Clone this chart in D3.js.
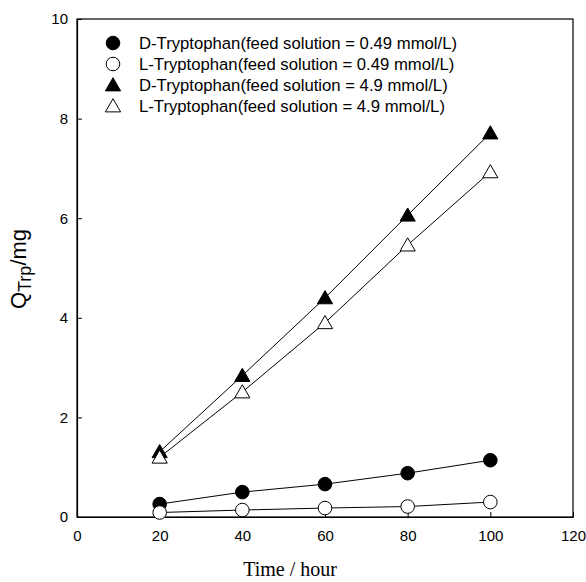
<!DOCTYPE html>
<html>
<head>
<meta charset="utf-8">
<script src="https://cdn.jsdelivr.net/npm/d3@7"></script>
<style>
  html, body { margin: 0; padding: 0; background: #fff; }
  svg { display: block; }
</style>
</head>
<body>
<svg id="chart" width="586" height="582"></svg>
<script>
// Sampling times (hours)
const times = [20, 40, 60, 80, 100];

// Amount of tryptophan transported, Q (mg)
const dTrpLow  = [0.26, 0.50, 0.66, 0.88, 1.14];
const lTrpLow  = [0.09, 0.14, 0.18, 0.21, 0.30];
const dTrpHigh = [1.31, 2.84, 4.40, 6.06, 7.71];
const lTrpHigh = [1.20, 2.51, 3.90, 5.46, 6.93];

const seriesNames = [
  "D-Tryptophan(feed solution = 0.49 mmol/L)",
  "L-Tryptophan(feed solution = 0.49 mmol/L)",
  "D-Tryptophan(feed solution = 4.9 mmol/L)",
  "L-Tryptophan(feed solution = 4.9 mmol/L)"
];
const seriesValues = [dTrpLow, lTrpLow, dTrpHigh, lTrpHigh];
const seriesShapes = ["circle", "circle", "triangle", "triangle"];
const seriesFilled = [true, false, true, false];

const xTicks = [0, 20, 40, 60, 80, 100, 120];
const yTicks = [0, 2, 4, 6, 8, 10];

const svg = d3.select("#chart");
const margin = { left: 77, top: 19, right: 13, bottom: 65 };
const W = 586, H = 582;

const x = d3.scaleLinear().domain([0, 120]).range([margin.left, W - margin.right]);
const y = d3.scaleLinear().domain([0, 10]).range([H - margin.bottom, margin.top]);

const sans = "Arial, 'Liberation Sans', Helvetica, sans-serif";
const serif = "'Times New Roman', 'Liberation Serif', serif";

// Frame
svg.append("rect")
  .attr("x", x(0)).attr("y", y(10))
  .attr("width", x(120) - x(0)).attr("height", y(0) - y(10))
  .attr("fill", "none").attr("stroke", "#000").attr("stroke-width", 1.2);

// Axes with inward ticks
const xAxis = svg.append("g")
  .attr("transform", `translate(0,${y(0)})`)
  .call(d3.axisBottom(x).tickValues(xTicks).tickSizeInner(-5).tickSizeOuter(0).tickPadding(13));
const yAxis = svg.append("g")
  .attr("transform", `translate(${x(0)},0)`)
  .call(d3.axisLeft(y).tickValues(yTicks).tickSizeInner(-5).tickSizeOuter(0).tickPadding(9));

[xAxis, yAxis].forEach(g => {
  g.select(".domain").attr("stroke", "#000").attr("stroke-width", 1.2);
  g.selectAll(".tick line").attr("stroke", "#000");
  g.selectAll(".tick text").attr("fill", "#000")
    .style("font-family", sans).style("font-size", "15px");
});
xAxis.selectAll(".tick text").attr("dy", "0.71em");

// Axis titles
svg.append("text")
  .attr("x", 290).attr("y", 576)
  .attr("text-anchor", "middle")
  .style("font-family", serif).style("font-size", "20px")
  .text("Time / hour");

const yLabel = svg.append("text")
  .attr("transform", `translate(26,269) rotate(-90)`)
  .attr("text-anchor", "middle")
  .style("font-family", sans).style("font-size", "22px");
yLabel.append("tspan").text("Q");
yLabel.append("tspan").attr("dy", "5").style("font-size", "18px").text("Trp");
yLabel.append("tspan").attr("dy", "-5").text("/mg");

// Series
const line = d3.line().x((d, i) => x(times[i])).y(d => y(d));
const triangle = d3.symbol().type(d3.symbolTriangle).size(100);

function drawMarker(g, shape, filled, cx, cy) {
  if (shape === "circle") {
    g.append("circle").attr("cx", cx).attr("cy", cy).attr("r", 6.8)
      .attr("fill", filled ? "#000" : "#fff").attr("stroke", "#000").attr("stroke-width", 1);
  } else {
    g.append("path").attr("d", triangle())
      .attr("transform", `translate(${cx},${cy + 1.5})`)
      .attr("fill", filled ? "#000" : "#fff").attr("stroke", "#000").attr("stroke-width", 1);
  }
}

seriesValues.forEach((vals) => {
  svg.append("path").datum(vals).attr("d", line)
    .attr("fill", "none").attr("stroke", "#000").attr("stroke-width", 1);
});
seriesValues.forEach((vals, s) => {
  const g = svg.append("g");
  vals.forEach((v, i) => drawMarker(g, seriesShapes[s], seriesFilled[s], x(times[i]), y(v)));
});

// Legend
const legend = svg.append("g");
seriesNames.forEach((name, i) => {
  const ly = 43 + i * 21;
  drawMarker(legend, seriesShapes[i], seriesFilled[i], 113, ly);
  legend.append("text")
    .attr("x", 139).attr("y", ly).attr("dy", "0.35em")
    .style("font-family", sans).style("font-size", "16.7px")
    .text(name);
});
</script>
</body>
</html>
